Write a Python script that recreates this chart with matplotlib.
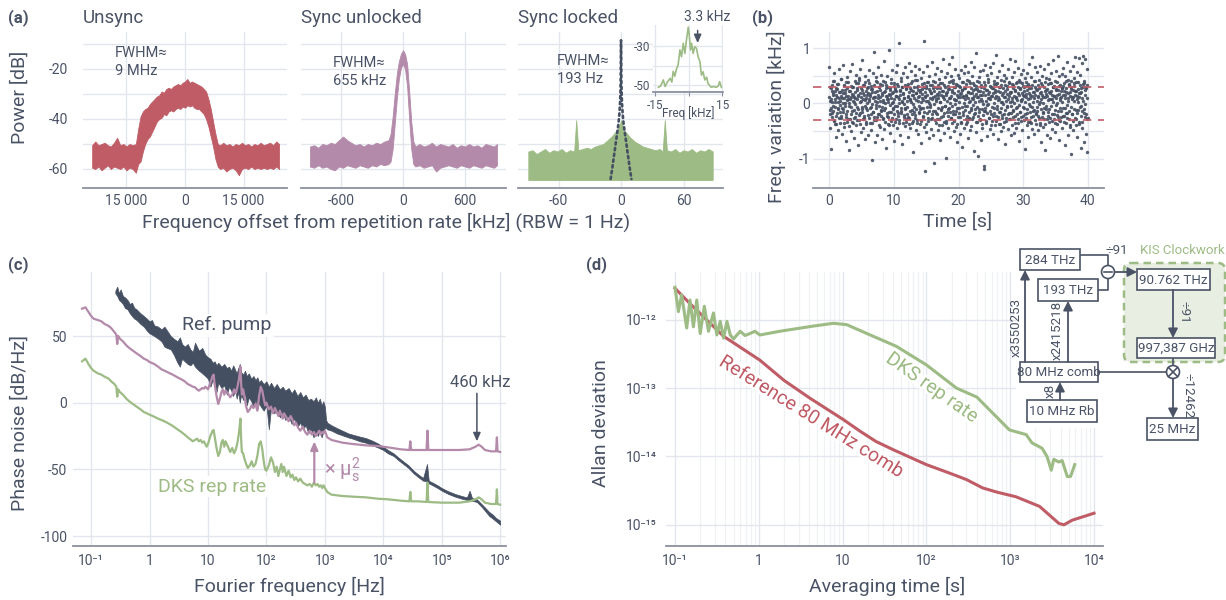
import numpy as np
import matplotlib
matplotlib.use("Agg")
import matplotlib.pyplot as plt
import matplotlib.patheffects as pe
from matplotlib.patches import Rectangle, FancyBboxPatch, Circle
from matplotlib.ticker import NullLocator, FixedLocator

# --------------------------------------------------------------------------- #
# (a) RF spectra, envelopes of the noisy traces [kHz, dB]
unsync_f = [-23800, -23000, -22200, -21400, -20600, -19800, -19000, -18200, -17400, -16600,
            -15800, -15000, -14200, -13400, -12600, -12000, -11400, -10800, -10200, -9600,
            -9000, -8400, -7800, -7200, -6600, -6000, -5400, -4800, -4200, -3600,
            -3000, -2400, -1800, -1200, -600, 0, 600, 1200, 1800, 2400,
            3000, 3600, 4200, 4800, 5400, 6000, 6600, 7200, 7800, 8400,
            9000, 9800, 10600, 11400, 12200, 13000, 13800, 14600, 15400, 16200,
            17000, 17800, 18600, 19400, 20200, 21000, 21800, 22600, 23400, 24100]
unsync_hi = [-50.5, -49, -50.5, -50, -49.5, -50.5, -51, -49.5, -47.5, -50.5,
             -50, -51, -50, -50.5, -50, -44, -39, -37, -36, -35.5,
             -34, -33, -32, -31, -30.5, -29, -29.5, -28, -27.5, -28,
             -27, -26.5, -26, -26.5, -25.5, -25, -24, -25.5, -25, -25.5,
             -26, -26.5, -27, -28, -29, -32, -36, -41, -46, -50,
             -50.5, -49.5, -50.5, -50, -51, -50, -50.5, -49.5, -50.5, -50,
             -51, -50, -50.5, -49.5, -50.5, -50, -49.5, -50.5, -49, -50]
unsync_lo = [-59.5, -60, -59, -60.5, -59.5, -58.5, -60, -59, -59.5, -60,
             -59, -60.5, -59.5, -60, -61.5, -58, -57, -53, -50, -48,
             -47, -45, -43, -41, -40, -39.5, -38, -38.5, -37, -36.5,
             -37, -36, -35.5, -36, -35, -35.5, -34.5, -35, -34.5, -35.5,
             -36, -36, -37, -38, -40, -43, -47, -51, -56, -59,
             -60, -59.5, -61, -60, -59.5, -60.5, -62.5, -60, -59.5, -60,
             -59, -60, -59.5, -60, -59.5, -60, -59.5, -60, -59, -60]

unlocked_f = [-900, -860, -820, -780, -740, -700, -660, -620, -580, -540,
              -500, -460, -420, -380, -340, -300, -260, -220, -180, -140,
              -120, -100, -80, -60, -40, -20, 0, 20, 40, 60,
              80, 100, 120, 160, 200, 240, 280, 320, 360, 400,
              440, 480, 520, 560, 600, 640, 680, 720, 760, 800,
              840, 880, 910]
unlocked_hi = [-51, -50.5, -51.5, -50, -50.5, -49.5, -50, -48.5, -47, -48.5,
               -49.5, -50.5, -50, -51, -50, -50.5, -49.5, -50, -49, -48.5,
               -46, -39, -30, -22, -17, -14, -12.5, -14, -18, -29,
               -41, -49, -51, -50, -51, -50.5, -49.5, -51, -50, -50.5,
               -51, -50, -51.5, -50.5, -51, -50, -51, -50.5, -51.5, -50,
               -50.5, -51, -50]
unlocked_lo = [-59, -59.5, -58.5, -59.5, -59, -60, -60.5, -59, -59.5, -58.5,
               -59, -59.5, -58.5, -59, -59.5, -58.5, -59, -58, -58.5, -58,
               -57, -52, -42, -32, -24, -19.5, -18, -20, -27, -40,
               -52, -58, -59, -58.5, -59.5, -59, -58.5, -61, -59.5, -59,
               -58.5, -59, -59.5, -58.5, -59, -59.5, -58.5, -59, -59.5, -58.5,
               -59, -59.5, -58.5]

locked_f = [-89, -85, -81, -77, -73, -69, -65, -61, -57, -53,
            -49, -45, -43, -41, -37, -33, -29, -25, -21, -17,
            -13, -9, -6, -3, -1, 0, 1, 3, 6, 9,
            13, 17, 21, 25, 29, 33, 37, 40, 42, 44,
            48, 52, 56, 60, 64, 68, 72, 76, 80, 84, 88]
locked_hi = [-53, -52.5, -54, -53, -52, -53.5, -52.5, -53, -52, -53.5,
             -52.5, -53, -40.5, -52.5, -52, -51.5, -52, -51, -50.5, -50,
             -48.5, -47, -45.5, -44, -42, -40.5, -42, -44.5, -46, -47.5,
             -49, -50, -51, -51.5, -52, -52.5, -52, -53, -40.5, -52.5,
             -53, -52, -53.5, -52.5, -53, -52, -53.5, -52.5, -53, -52, -53]
locked_floor = -64.4

fit_f = [-10, -8.5, -7, -5.5, -4, -2.5, -1.6, -1, -0.6, -0.35, -0.2, -0.1, 0,
         0.1, 0.2, 0.35, 0.6, 1, 1.6, 2.5, 4, 5.5, 7, 8.5, 10]
fit_db = [-64, -60, -55.5, -51, -46.5, -42, -38, -34, -30, -25, -19, -12, -8.5,
          -12, -19, -25, -30, -34, -38, -42, -46.5, -51, -55.5, -60, -64]

inset_f = [-13.5, -12.5, -11.3, -10.5, -9.5, -8.3, -7.5, -6.9, -6.2, -5.5,
           -4.7, -3.9, -3.2, -2.4, -1.7, -1.0, -0.2, 0.2, 0.8, 1.3,
           2.0, 2.7, 3.5, 4.2, 5.0, 5.7, 6.4, 7.2, 8.0, 8.6,
           9.5, 10.1, 11.0, 12.3, 13.2, 13.8, 14.6]
inset_db = [-51.2, -50.5, -47.4, -50.8, -48.5, -46.6, -48.5, -43, -45.5, -42,
            -39.7, -32, -35.5, -28.6, -33.8, -27, -20.4, -23.5, -32, -28.6,
            -33.8, -30.3, -31.2, -35.5, -38, -44.9, -43.2, -47.4, -46, -49.1,
            -50.5, -51.2, -50.8, -51.2, -50.5, -48.3, -51.2]

# (b) repetition-rate frequency variation, units of 10 Hz, two interleaved
# sample streams at 15 Hz each
sample_rate = 15.0
freq_var_10hz = [
    65, -12, 30, -45, 8, -82, 22, -18, 41, -5, 15, -30, 55, -38, 3, 27, -22, -60, 12, 35, -8, -48, 20, 62, -15, 5, -35, 44, -26, 10,
    -55, 18, 70, -10, 33, -42, 0, 25, -68, 14, -20, 48, -33, 7, 38, -85, 22, -4, 58, -28, 11, -50, 30, -14, 72, -36, 16, 2, -62, 40,
    -24, 9, 52, -40, 28, -7, -75, 36, 13, -30, 45, -18, 63, -52, 4, 24, -11, 78, -44, 19, -26, 34, -65, 6, 50, -9, -38, 27, 15, -57,
    42, -21, 8, 60, -35, 17, -48, 31, -6, -102, 26, -16, 55, -30, 12, 93, -70, 21, -3, 47, -25, 38, -58, 10, 66, -19, 29, -42, 5, 35,
    -12, 51, -64, 18, 40, -27, 2, 76, -46, 23, -9, 33, -80, 14, 49, -22, 7, -37, 97, -15, 28, -53, 16, 44, -31, 1, 61, -40, 20, -11,
    37, -68, 25, -4, 56, -29, 13, -45, 70, -18, 32, 8, 109, -36, 22, -57, 46, -13, 3, 30, -74, 17, 54, -24, 9, -41, 65, -8, 27, -33,
    48, -19, 11, -60, 35, 73, -27, 6, -44, 24, 58, -12, 40, -35, 15, -88, 29, -6, 52, -21, 67, -48, 18, -30, 43, 4, -55, 31, -16, 62,
    -38, 21, -9, 45, -71, 26, 10, -24, 57, -43, 36, 112, -122, 14, -52, 28, 68, -17, 39, -31, 5, 50, -62, 23, -7, 34, -47, 19, 75, -26,
    12, -58, 41, -108, 30, -14, 53, -35, 8, 64, -20, 27, -49, 16, 44, -29, 2, -66, 37, -11, 59, -40, 22, 81, -23, 13, -54, 33, -4, 47,
    -32, 18, -99, 55, -15, 26, -45, 71, -8, 38, -61, 9, 49, -27, 84, -36, 20, -13, 42, -50, 29, 63, -19, 6, -42, 35, -70, 15, 52, -24,
    31, -9, 46, -56, 17, 60, -33, 24, -78, 39, -16, 11, 54, -45, 28, -5, 68, -37, 14, -22, 43, -63, 21, 57, -28, 3, -48, 36, -12, 74,
    -41, 19, 50, -25, 7, -86, 33, 65, -18, 26, 91, -52, 12, 40, -34, 22, -95, 47, -10, 58, -29, 15, -67, 30, 4, -44, 61, -21, -113, -118,
    38, -14, 70, -36, 25, -3, 52, -59, 17, 44, -26, 9, 66, -47, 32, -19, 55, -32, 13, 73, -55, 27, -8, 41, -40, 20, 87, -23, 35, -11,
    48, -64, 23, 8, -37, 59, -15, 30, -50, 42, 2, -27, 69, -42, 18, 51, -20, 34, -73, 11, 45, -31, 26, -6, 62, -46, 14, 38, -17, 80,
    -28, 21, -58, 47, 5, -39, 33, -12, 56, -53, 24, 77, -22, 10, -44, 39, -7, 64, -35, 19, -68, 43, 28, -15, 53, -25, 6, 36, -49, 15,
    60, -30, 22, -9, 45, -83, 31, 12, -40, 54, -18, 35, -61, 27, 72, -33, 16, -4, 48, -24, 83, -46, 20, -13, 40, 9, -55, 29, 66, -20,
    -37, 25, -6, 57, -48, 14, 42, -26, 3, 68, -39, 21, -70, 34, 50, -16, 11, -43, 62, -29, 38, -85, 17, 46, -10, 26, -57, 71, -22, 8,
    44, -34, 19, -62, 36, 55, -19, 7, -47, 30, 78, -28, 13, 41, -52, 24, -3, 59, -38, 16, 86, -25, 32, -66, 49, 10, -31, 23, -14, 53,
    -44, 28, -8, 64, -23, 37, -76, 15, 50, -35, 20, 74, -17, 43, -57, 9, 33, -29, 58, -42, 26, -91, 40, 12, -20, 67, -49, 31, 5, 46,
    -27, 84, -39, 22, 56, -60, 14, -12, 38, 82, -33, 19, 51, -80, 28, -5, 73, -45, 35, 85, -18, 41, -70, 24, 80, -55, 30, -88, 62, -28,
]
freq_var_10hz_b = [
    12, -20, 5, 28, -9, 33, -25, 2, 18, -14, 40, -31, 7, 22, -6, -38, 15, 26, -18, 3, 35, -11, -27, 9, 20, -3, 44, -22, 13, -8,
    25, -16, 1, 31, -35, 10, -5, 19, -24, 38, 6, -13, 27, -29, 14, 0, -41, 23, 8, -19, 32, -7, 17, -33, 4, 29, -12, 11, -26, 21,
    -2, 36, -17, 8, 24, -30, 15, -10, 42, -21, 3, 19, -37, 12, 28, -6, -15, 34, -28, 7, 16, -23, 39, -4, 10, -34, 22, 1, -12, 30,
    18, -27, 5, 37, -9, 14, -20, 26, -1, -36, 20, 9, -16, 33, -25, 4, 12, -8, 41, -30, 23, 2, -19, 15, -39, 29, -5, 11, 24, -14,
    -22, 16, 34, -7, 6, -28, 21, -12, 39, 0, -33, 13, 27, -18, 8, 30, -24, 3, 17, -40, 25, -3, 10, -15, 36, -26, 19, -9, 2, 31,
    7, -19, 28, -34, 14, 22, -4, -13, 35, -23, 11, 1, -30, 24, 16, -8, 40, -17, 5, 29, -36, 18, -2, 9, -21, 33, -11, 26, -29, 4,
    32, -6, 13, -25, 20, -38, 8, 27, -14, 3, 37, -20, 15, -1, -31, 23, 10, -16, 42, -27, 6, 19, -10, 30, -35, 12, 25, -5, -18, 14,
    -11, 24, 2, -32, 17, 35, -9, 6, -23, 29, -15, 11, 21, -37, 4, 31, -7, 16, -26, 38, 0, -14, 26, -3, 9, -29, 19, 34, -20, 8,
    27, -13, -1, 22, -30, 13, 39, -18, 5, 17, -28, 33, 10, -8, -40, 20, 2, 28, -12, 15, -24, 36, -6, 11, 23, -33, 7, -17, 30, -4,
    15, -35, 21, 4, -10, 32, -22, 9, 26, -16, 1, 40, -27, 14, -5, 24, -19, 37, 8, -31, 18, -2, 29, -13, 6, -38, 34, -9, 12, 22,
    -17, 3, 30, -24, 11, 19, -36, 25, -6, 13, 38, -21, 0, 27, -12, 7, -29, 35, 16, -4, -33, 21, 10, -15, 41, -26, 5, 18, -8, 28,
    9, -28, 24, -3, 36, -19, 14, -11, 2, 31, -34, 17, 26, -7, -22, 12, 39, -16, 4, 23, -30, 8, 33, -10, 15, -37, 20, -1, 27, -13,
    34, -9, 16, -31, 5, 25, -18, 38, -2, 10, -26, 21, 7, -14, 30, -39, 13, 28, -6, 18, -23, 1, 35, -17, 9, 24, -32, 14, -4, 37,
    -25, 11, 6, 29, -15, 20, -37, 3, 33, -8, 16, -21, 27, -1, 12, -34, 40, -12, 22, 5, -27, 31, -5, 17, -19, 8, 36, -29, 19, 2,
    21, -4, -18, 35, 9, -24, 28, -13, 14, 1, -35, 23, 11, -9, 37, -20, 6, 30, -28, 15, -3, 26, -16, 39, 4, -31, 18, 7, -22, 32,
    -7, 29, 13, -20, 3, 38, -27, 17, -11, 24, 8, -33, 32, -2, 19, -15, 10, -36, 27, 14, -6, 34, -23, 2, 21, -12, 16, -30, 41, -18,
    26, -14, 4, 33, -22, 12, -1, 28, -35, 18, 7, -10, 36, -25, 15, 0, -17, 30, -8, 22, -38, 11, 25, -4, 13, -28, 35, 6, -15, 20,
    -10, 37, -26, 8, 23, -5, 16, -32, 29, 3, -19, 13, 31, -12, -36, 26, 9, -21, 38, 1, -14, 24, -30, 17, 6, -9, 33, -24, 11, 28,
    3, -22, 31, 15, -34, 22, -8, 10, 40, -17, 27, -3, -26, 19, 5, 35, -13, 14, -39, 21, 30, -7, 8, -20, 25, 12, -31, 36, -11, 16,
    23, -12, -29, 39, 7, -18, 26, 2, -37, 18, 12, -6, 33, -23, 20, -14, 9, -33, 29, 4, -10, 37, -25, 15, -2, 28, -19, 10, 34, -27,
]
lock_band_khz = 0.3

# (c) phase noise [Hz, dB/Hz]
pn_f = [0.07, 0.08, 0.09, 0.1, 0.11, 0.13, 0.15, 0.17, 0.2, 0.22,
        0.25, 0.27, 0.28, 0.29, 0.31, 0.35, 0.4, 0.45, 0.5, 0.6,
        0.7, 0.8, 0.9, 1.0, 1.2, 1.4, 1.6, 1.8, 2.0, 2.5,
        3.0, 3.5, 4.0, 4.5, 5.0, 5.5, 6.0, 6.5, 7.0, 7.5,
        8.0, 8.5, 9.0, 9.5, 10, 11, 12, 12.5, 13, 14,
        15, 16, 17, 18, 19, 20, 22, 24, 26, 28,
        30, 32, 34, 36, 37, 38, 40, 42, 45, 48,
        52, 56, 60, 65, 70, 75, 80, 85, 90, 95,
        100, 110, 120, 130, 140, 150, 160, 170, 180, 190,
        200, 220, 240, 260, 280, 300, 320, 350, 380, 420,
        460, 500, 550, 600, 650, 700, 750, 800, 850, 900,
        950, 1000, 1100, 1300, 1600, 2000, 3000, 5000, 8000, 12000,
        20000, 28000, 29000, 30000, 40000, 55000, 57000, 59000, 1e5, 2e5,
        3e5, 3.8e5, 4.3e5, 4.8e5, 5.5e5, 7e5, 8.5e5, 8.8e5, 9e5, 1e6]
scaled_db = [70.5, 71.5, 68, 65, 63, 62, 61, 59, 57.5, 56,
             53, 51, 44, 50, 48, 46, 43, 41, 39.5, 37,
             35, 33, 32, 30.5, 29, 27, 25, 24, 23, 21,
             19, 17.5, 16, 14, 13, 12, 11.5, 10, 9, 10,
             11, 10.5, 12, 11, 10, 15, 20, 21, 14, 5,
             -1, 3, 8, 10, 6, 9, 7, 4, 6, 10,
             7, 12, 18, 27, 14, 6, 10, 5, -3, -7,
             -5, -2, -4, -1, -6, 5, 12, 9, 3, -2,
             0, -5, -3, -8, -4, -7, -10, -6, -9, -12,
             -8, -11, -14, -10, -13, -17, -15, -19, -21, -18,
             -22, -24, -21, -24, -22, -25, -23, -21, -24, -22,
             -23, -21, -26, -28, -29, -30, -31, -32, -32.5, -33.5,
             -35, -35.5, -29, -35.5, -35.5, -35.5, -21, -35.5, -35.5, -35.5,
             -35, -33, -31.5, -33, -35.5, -36.5, -36.5, -26, -36.5, -37]
dks_db = [31, 33, 29, 26, 24, 22, 21, 19.5, 18, 16,
          14, 12, 4.5, 10, 8, 6, 3, 1, -0.5, -3,
          -5, -7, -8, -9, -10.5, -12, -13, -14, -15, -17.5,
          -20, -22, -24, -26, -27.5, -29, -28, -27, -29, -28,
          -30, -29, -31, -33, -31, -25, -21, -20.5, -25, -34,
          -40, -37, -30, -28, -33, -29, -33, -37, -34, -38,
          -35, -30, -22, -12, -28, -37, -38, -42, -46, -49,
          -47, -44, -48, -46, -40, -31, -29, -35, -44, -50,
          -51, -47, -41, -45, -52, -48, -55, -50, -46, -52,
          -48, -55, -51, -56, -54, -58, -56, -59, -57, -60,
          -61, -62, -61, -63, -60, -62, -61, -63, -62, -64,
          -62, -64, -67, -69, -69.5, -70, -70.5, -71, -72, -72.5,
          -73.5, -74, -67, -74, -74, -74.5, -60, -74.5, -75, -75,
          -74, -72.5, -71, -72.5, -75, -76, -76, -65, -76, -76.5]

pump_f = [0.26, 0.28, 0.30, 0.32, 0.35, 0.38, 0.42, 0.46, 0.5, 0.55,
          0.6, 0.7, 0.8, 0.9, 1.0, 1.1, 1.2, 1.4, 1.6, 1.8,
          2.0, 2.3, 2.6, 3.0, 3.3, 3.6, 4.0, 4.5, 5.0, 5.5,
          6.0, 7, 8, 9, 10, 11, 12, 13, 14, 15,
          17, 19, 21, 23, 25, 27, 29, 31, 33, 35,
          37, 40, 43, 46, 50, 55, 60, 65, 70, 75,
          80, 90, 100, 110, 120, 135, 150, 170, 190, 210,
          240, 270, 300, 340, 380, 420, 470, 520, 580, 640,
          700, 760, 820, 880, 940, 1000, 1050, 1100, 1300, 1600,
          2000, 2500, 3000, 4000, 5000, 6500, 8000, 10000, 12000, 15000,
          18000, 22000, 27000, 33000, 40000, 48000, 56000, 60000, 70000, 85000,
          1e5, 1.3e5, 1.7e5, 2.2e5, 2.7e5, 3e5, 3.3e5, 4e5, 4.8e5, 5.6e5,
          6.5e5, 7.5e5, 8.5e5, 1e6]
pump_hi = [84, 87, 82, 85, 80, 79, 77, 74, 75, 71,
           70, 67, 65, 63, 61, 62, 58, 57, 55, 57,
           54, 50, 48, 46, 49, 44, 42, 44, 40, 38,
           45, 39, 41, 36, 34, 33, 30, 31, 28, 30,
           27, 29, 26, 27, 24, 28, 25, 22, 26, 29,
           23, 21, 24, 20, 22, 18, 20, 17, 19, 15,
           17, 14, 16, 12, 15, 11, 14, 10, 12, 9,
           11, 7, 10, 5, 8, 4, 6, 2, 3, 1,
           4, 0, 3, -2, 1, -3, -13, -15, -17, -19,
           -21, -23, -24, -25.5, -26.5, -28.5, -30.5, -33, -35.5, -38,
           -41, -44, -47, -51, -54, -56.5, -46, -58.5, -60, -62,
           -64, -66.5, -68.5, -70, -71, -66, -71.5, -72.5, -76, -79,
           -82, -84, -86.5, -88.5]
pump_lo = [82, 80, 77, 76, 74, 71, 70, 67, 65, 63,
           62, 59, 57, 54, 52, 51, 50, 48, 46, 42,
           41, 40, 36, 30, 27, 33, 31, 29, 28, 30,
           27, 24, 22, 20, 18, 12, 17, 14, 8, 15,
           11, 13, 6, 12, 9, 5, 10, 3, 8, 0,
           6, 2, 7, -2, 4, 1, -3, 2, -5, 0,
           -3, -6, -2, -20, -4, -8, -6, -11, -7, -13,
           -10, -16, -12, -18, -15, -20, -17, -23, -20, -26,
           -22, -25, -21, -26, -22, -19, -19, -20, -21, -23,
           -24.5, -26, -27, -29, -30, -32, -33.5, -35.5, -38, -40,
           -43, -46, -49, -53, -56, -58.5, -59, -60.5, -62, -64,
           -66, -68.5, -70.5, -72, -73, -73, -73.5, -74.5, -78, -81.5,
           -85, -87, -89, -91.5]

# (d) Allan deviation
ref_tau = [0.1, 0.15, 0.38, 1.03, 2.0, 4.1, 10.2, 16.2, 25, 40, 100, 186, 300, 468, 700,
           1175, 2240, 3800, 4370, 5500, 7940, 10000]
ref_adev = [2.9e-12, 1.74e-12, 5.75e-13, 2.57e-13, 1.3e-13, 7.1e-14, 3.47e-14, 2.34e-14,
            1.66e-14, 1.26e-14, 7.6e-15, 5.75e-15, 4.6e-15, 3.47e-15, 3.0e-15, 2.57e-15,
            1.86e-15, 1.05e-15, 1.0e-15, 1.17e-15, 1.35e-15, 1.48e-15]
dks_tau = [0.1, 0.11, 0.12, 0.138, 0.151, 0.166, 0.182, 0.2, 0.224, 0.251,
           0.288, 0.316, 0.347, 0.38, 0.417, 0.457, 0.5, 0.6, 0.684, 0.785,
           0.9, 1.03, 1.78, 4.47, 7.76, 11.2, 19.5, 43.7, 100, 229,
           400, 977, 1550, 1820, 2400, 2750, 3090, 3310, 3800, 4170,
           4790, 5250, 5890]
dks_adev = [3.0e-12, 1.32e-12, 2.34e-12, 7.6e-13, 1.95e-12, 7.9e-13, 1.95e-12, 6.3e-13, 1.58e-12, 6.8e-13,
            1.26e-12, 6.0e-13, 9.5e-13, 5.4e-13, 9.5e-13, 6.0e-13, 5.25e-13, 6.8e-13, 5.9e-13, 6.3e-13,
            6.8e-13, 6.0e-13, 6.8e-13, 8.1e-13, 8.9e-13, 8.5e-13, 6.3e-13, 4.1e-13, 2.19e-13, 1.0e-13,
            7.4e-14, 2.45e-14, 2.09e-14, 1.58e-14, 1.32e-14, 1.0e-14, 6.3e-15, 9.1e-15, 8.3e-15, 8.7e-15,
            5.1e-15, 5.1e-15, 7.6e-15]

# --------------------------------------------------------------------------- #
W, H = 1226, 600
TXT = "#4a5366"
DARK = "#454f62"
RED = "#c05c66"
PINK = "#b48aab"
GREEN = "#9dbb84"
GRID = "#e3e6ed"
GRID_MINOR = "#eff1f5"
SPINE = "#8a909e"
FONT = "Roboto"

plt.rcParams["font.family"] = [FONT, "DejaVu Sans"]
plt.rcParams["axes.unicode_minus"] = False
plt.rcParams["text.color"] = TXT
plt.rcParams["mathtext.fontset"] = "custom"
plt.rcParams["mathtext.rm"] = FONT
plt.rcParams["mathtext.it"] = FONT

LAB = 14      # axis labels
TICK = 10

fig = plt.figure(figsize=(W / 100, H / 100), dpi=100)


def px_axes(x0, y0, x1, y1, **kw):
    return fig.add_axes([x0 / W, 1 - y1 / H, (x1 - x0) / W, (y1 - y0) / H], **kw)


def style(ax, ypad=4, xpad=4, size=TICK):
    for s in ("left", "right", "top"):
        ax.spines[s].set_visible(False)
    ax.spines["bottom"].set_color(SPINE)
    ax.spines["bottom"].set_linewidth(1.3)
    ax.tick_params(length=0, labelsize=size, labelcolor=TXT)
    ax.tick_params(axis="x", pad=xpad)
    ax.tick_params(axis="y", pad=ypad)
    ax.grid(True, color=GRID, lw=1)
    ax.set_axisbelow(True)


def ftext(x, y, s, **kw):
    kw.setdefault("ha", "center")
    kw.setdefault("va", "center")
    fig.text(x / W, 1 - y / H, s, color=kw.pop("color", TXT), **kw)


# ---------------- (a) ----------------
a_axes = [
    (83, 287, unsync_f, unsync_lo, unsync_hi, RED, (-26150, 26150),
     [-15000, 0, 15000], ["15 000", "0", "15 000"]),
    (301, 506, unlocked_f, unlocked_lo, unlocked_hi, PINK, (-987, 997),
     [-600, 0, 600], ["-600", "0", "600"]),
    (518, 723, locked_f, [locked_floor] * len(locked_f), locked_hi, GREEN, (-98.9, 97.9),
     [-60, 0, 60], ["-60", "0", "60"]),
]
for i, (x0, x1, f, lo, hi, col, xl, xt, xtl) in enumerate(a_axes):
    ax = px_axes(x0, 32, x1, 188)
    style(ax, ypad=11)
    ax.fill_between(f, lo, hi, color=col, edgecolor=col, lw=0.6)
    ax.set_xlim(*xl)
    ax.set_ylim(-67.6, -5.2)
    ax.set_xticks(xt, xtl)
    ax.set_yticks([-60, -50, -40, -30, -20, -10])
    if i == 0:
        ax.set_yticklabels(["-60", "", "-40", "", "-20", ""])
    else:
        ax.set_yticklabels([])
    if i == 2:
        ax.plot(fit_f, fit_db, color=DARK, lw=1.9, ls=(0, (0.9, 1.3)),
                dash_capstyle="round")

ftext(8, 18, "(a)", ha="left", fontsize=12, fontweight="bold")
ftext(83, 18, "Unsync", ha="left", fontsize=13.5)
ftext(301, 18, "Sync unlocked", ha="left", fontsize=13.5)
ftext(518, 18, "Sync locked", ha="left", fontsize=13.5)
ftext(115, 62, "FWHM≈\n9 MHz", ha="left", fontsize=10.5, linespacing=1.3)
ftext(333, 72, "FWHM≈\n655 kHz", ha="left", fontsize=10.5, linespacing=1.3)
ftext(557, 70, "FWHM≈\n193 Hz", ha="left", fontsize=10.5, linespacing=1.3)
ftext(20, 97, "Power [dB]", rotation=90, fontsize=LAB)
ftext(386, 222, "Frequency offset from repetition rate [kHz] (RBW = 1 Hz)", fontsize=LAB)

# inset
axi = px_axes(653, 25, 723, 92, facecolor="white")
style(axi, ypad=2, xpad=2, size=8.5)
axi.plot(inset_f, inset_db, color=GREEN, lw=1.2)
axi.set_xlim(-15.9, 15.3)
axi.set_ylim(-53.6, -19.2)
axi.set_xticks([-15, 0, 15], ["-15", "", "15"])
axi.set_yticks([-50, -40, -30], ["-50", "", "-30"])
axi.tick_params(axis="x", length=3, color=SPINE)
axi.annotate("", xy=(4.0, -28.5), xytext=(4.0, -22.0),
             arrowprops=dict(arrowstyle="-|>,head_length=0.5,head_width=0.22",
                             color=TXT, lw=1.1, shrinkA=0, shrinkB=0))
ftext(707, 17, "3.3 kHz", fontsize=10)
ftext(688, 113, "Freq [kHz]", fontsize=8.5)

# ---------------- (b) ----------------
axb = px_axes(813, 32, 1104, 188)
style(axb, ypad=2)
fv_a = np.array(freq_var_10hz) / 100.0
fv_b = np.array(freq_var_10hz_b) / 100.0
t_a = np.arange(len(fv_a)) / sample_rate
t_b = (np.arange(len(fv_b)) + 0.5) / sample_rate
axb.scatter(np.concatenate([t_a, t_b]), np.concatenate([fv_a, fv_b]),
            s=6, color=DARK, lw=0, alpha=0.9)
for sgn in (1, -1):
    axb.axhline(sgn * lock_band_khz, color=RED, lw=1.2, ls=(0, (5, 4)))
axb.set_xlim(-2.5, 42.5)
axb.set_ylim(-1.53, 1.29)
axb.set_xticks([0, 10, 20, 30, 40])
axb.set_yticks([-1, -0.5, 0, 0.5, 1], ["-1", "", "0", "", "1"])
ftext(752, 18, "(b)", ha="left", fontsize=12, fontweight="bold")
ftext(776, 117, "Freq. variation [kHz]", rotation=90, fontsize=LAB)
ftext(958, 222, "Time [s]", fontsize=LAB)

# ---------------- (c) ----------------
axc = px_axes(73, 272, 506, 546)
style(axc, ypad=4, xpad=6)
axc.set_xscale("log")
axc.fill_between(pump_f, pump_lo, pump_hi, color=DARK, edgecolor=DARK, lw=0.5, zorder=2)
axc.plot(pn_f, scaled_db, color=PINK, lw=1.6, zorder=3)
axc.plot(pn_f, dks_db, color=GREEN, lw=1.6, zorder=3)
axc.set_xlim(0.049, 10 ** 6.1)
axc.set_ylim(-107.5, 98)
axc.xaxis.set_major_locator(FixedLocator([0.1, 1, 10, 1e2, 1e3, 1e4, 1e5, 1e6]))
axc.xaxis.set_minor_locator(NullLocator())
axc.set_xticklabels(["10⁻¹", "1", "10", "10²", "10³", "10⁴", "10⁵", "10⁶"])
axc.set_yticks([-100, -50, 0, 50])
axc.text(21, 58, "Ref. pump", color=TXT, fontsize=14, ha="center", va="center", zorder=4,
         bbox=dict(fc="white", ec="none", pad=2))
axc.text(11.6, -63, "DKS rep rate", color=GREEN, fontsize=14, ha="center", va="center",
         zorder=4, bbox=dict(fc="white", ec="none", pad=1))
axc.text(4.5e5, 15, "460 kHz", color=TXT, fontsize=12, ha="center", va="center")
axc.annotate("", xy=(4.0e5, -29), xytext=(4.0e5, 7),
             arrowprops=dict(arrowstyle="-|>,head_length=0.5,head_width=0.22",
                             color=TXT, lw=1.1, shrinkA=0, shrinkB=0))
axc.annotate("", xy=(660, -29), xytext=(660, -60),
             arrowprops=dict(arrowstyle="-|>,head_length=0.5,head_width=0.22",
                             color=PINK, lw=1.6, shrinkA=0, shrinkB=0), zorder=4)
axc.text(950, -50, r"× $\mathrm{μ}_\mathrm{s}^{\mathrm{2}}$", color=PINK, fontsize=14.5,
         ha="left", va="center", zorder=4)
ftext(8, 265, "(c)", ha="left", fontsize=12, fontweight="bold")
ftext(20, 423, "Phase noise [dB/Hz]", rotation=90, fontsize=LAB)
ftext(289, 586, "Fourier frequency [Hz]", fontsize=LAB)

# ---------------- (d) ----------------
axd = px_axes(666, 272, 1103, 546)
style(axd, ypad=7, xpad=6)
axd.set_xscale("log")
axd.set_yscale("log")
axd.plot(ref_tau, ref_adev, color=RED, lw=2.2)
axd.plot(dks_tau, dks_adev, color=GREEN, lw=2.2)
axd.set_xlim(10 ** -1.107, 10 ** 4.107)
axd.set_ylim(10 ** -15.31, 10 ** -11.3)
axd.xaxis.set_major_locator(FixedLocator([0.1, 1, 10, 1e2, 1e3, 1e4]))
axd.set_xticklabels(["10⁻¹", "1", "10", "10²", "10³", "10⁴"])
axd.xaxis.set_minor_locator(FixedLocator(
    [m * 10.0 ** e for e in range(-1, 4) for m in range(2, 10)]))
axd.tick_params(axis="x", which="minor", length=0)
axd.grid(True, which="minor", axis="x", color=GRID_MINOR, lw=0.9)
axd.grid(False, which="minor", axis="y")
axd.yaxis.set_major_locator(FixedLocator([1e-15, 1e-14, 1e-13, 1e-12]))
axd.yaxis.set_minor_locator(NullLocator())
axd.set_yticklabels(["10⁻¹⁵", "10⁻¹⁴", "10⁻¹³", "10⁻¹²"])
halo = [pe.withStroke(linewidth=4, foreground="white")]
axd.text(4.3, 10 ** -13.43, "Reference 80 MHz comb", color=RED, fontsize=14, rotation=-32,
         ha="center", va="center", rotation_mode="anchor", path_effects=halo)
axd.text(117, 10 ** -13.0, "DKS rep rate", color=GREEN, fontsize=14, rotation=-35,
         ha="center", va="center", rotation_mode="anchor", path_effects=halo)
ftext(586, 265, "(d)", ha="left", fontsize=12, fontweight="bold")
ftext(601, 423, "Allan deviation", rotation=90, fontsize=LAB)
ftext(887, 586, "Averaging time [s]", fontsize=LAB)

# ---------------- frequency chain diagram ----------------
ov = fig.add_axes([0, 0, 1, 1], zorder=5)
ov.set_xlim(0, W)
ov.set_ylim(H, 0)
ov.axis("off")
ov.patch.set_alpha(0)
ov.add_patch(Rectangle((1016, 238), 210, 190, fc="white", ec="none"))
ov.add_patch(FancyBboxPatch((1124, 263), 101, 99, boxstyle="round,pad=0,rounding_size=7",
                            fc="#e8eee2", ec=GREEN, lw=1.8, ls=(0, (3, 2))))
ov.text(1225, 250, "KIS Clockwork", color=GREEN, fontsize=9.5, ha="right", va="center")

arrow_kw = dict(arrowstyle="-|>,head_length=0.55,head_width=0.28", color=TXT, lw=1.3,
                shrinkA=0, shrinkB=0)
DFS = 9.6


def box(x0, y0, x1, y1, s):
    ov.add_patch(Rectangle((x0, y0), x1 - x0, y1 - y0, fc="white", ec=TXT, lw=1.2, zorder=3))
    ov.text((x0 + x1) / 2, (y0 + y1) / 2 + 0.5, s, fontsize=DFS, ha="center", va="center",
            color=TXT, zorder=4)


def arrow(x0, y0, x1, y1):
    ov.annotate("", xy=(x1, y1), xytext=(x0, y0), arrowprops=arrow_kw)


def line(xs, ys, z=2):
    ov.plot(xs, ys, color=TXT, lw=1.2, zorder=z)


box(1020, 249, 1080, 270, "284 THz")
box(1038, 279, 1098, 301, "193 THz")
box(1020, 362, 1098, 382, "80 MHz comb")
box(1027, 400, 1097, 422, "10 MHz Rb")
box(1137, 269, 1210, 290, "90.762 THz")
box(1137, 338, 1215, 358, "997,387 GHz")
box(1147, 418, 1198, 440, "25 MHz")

# subtraction node
line([1080, 1108, 1108], [255, 255, 265.5])
line([1098, 1108, 1108], [290, 290, 278.5])
ov.add_patch(Circle((1108, 272), 6.5, fc="white", ec=TXT, lw=1.2, zorder=3))
line([1104, 1112], [272, 272], z=4)
arrow(1114.5, 272, 1137, 272)
ov.text(1117, 250, "÷91", fontsize=DFS, ha="center", va="center", color=TXT)

arrow(1173, 290, 1173, 338)
ov.text(1184, 312, "÷91", fontsize=DFS, ha="center", va="center", rotation=270, color=TXT)

# mixing node
line([1173, 1173], [358, 365.5])
line([1098, 1166.5], [372, 372])
ov.add_patch(Circle((1173, 372), 6.5, fc="white", ec=TXT, lw=1.2, zorder=3))
line([1168.4, 1177.6], [367.4, 376.6], z=4)
line([1168.4, 1177.6], [376.6, 367.4], z=4)
arrow(1173, 378.5, 1173, 418)
ov.text(1188, 396, "÷12462", fontsize=DFS, ha="center", va="center", rotation=270, color=TXT)

arrow(1025, 362, 1025, 270)
arrow(1068, 362, 1068, 301)
arrow(1060, 400, 1060, 382)
ov.text(1016, 327, "x3550253", fontsize=DFS, ha="center", va="center", rotation=90, color=TXT)
ov.text(1057, 330, "x2415218", fontsize=DFS, ha="center", va="center", rotation=90, color=TXT)
ov.text(1050, 391, "x8", fontsize=DFS, ha="center", va="center", rotation=90, color=TXT)

fig.savefig("out.png", dpi=100)
